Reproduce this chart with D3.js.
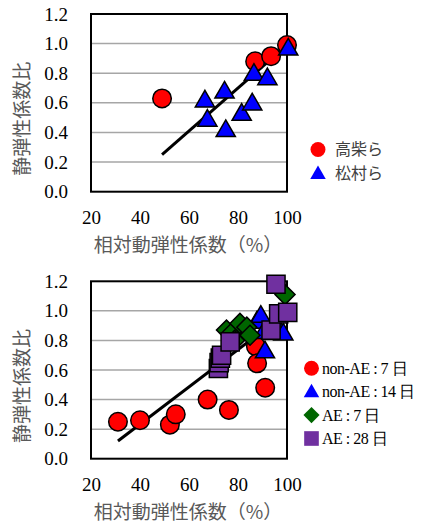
<!DOCTYPE html>
<html>
<head>
<meta charset="utf-8">
<script src="https://cdn.jsdelivr.net/npm/d3@7"></script>
<style>
  body { margin: 0; background: #fff; }
  svg { display: block; }
</style>
</head>
<body>
<div id="chart"></div>
<script>
// data
var xTicks = [20, 40, 60, 80, 100];
var yTicks = [0, 0.2, 0.4, 0.6, 0.8, 1.0, 1.2];
var xTitle = "相対動弾性係数（%）";
var yTitle = "静弾性係数比";

// upper panel
var takashiba = [[49, 0.63], [87, 0.88], [93.5, 0.915], [100, 0.99]];
var matsumura = [[66.5, 0.62], [67.5, 0.49], [74.5, 0.68], [75, 0.42], [81.5, 0.53],
                 [85.8, 0.60], [86.5, 0.80], [92, 0.77], [100.5, 0.97]];
var fitTop = [[49, 0.25], [100, 0.99]];

// lower panel
var nonAE7 = [[31, 0.25], [40, 0.26], [52.2, 0.23], [54.6, 0.30], [67.6, 0.40], [76.3, 0.33],
              [87.3, 0.76], [87.8, 0.645], [91.1, 0.48]];
var nonAE14 = [[87.7, 0.93], [89.3, 0.97], [90.5, 0.86], [91, 0.73], [96, 0.90], [98.5, 0.85]];
var AE7 = [[75.3, 0.87], [77.4, 0.85], [78.6, 0.80], [80.8, 0.915], [83.6, 0.89],
           [84.9, 0.835], [99.2, 1.11]];
var AE28 = [[72, 0.61], [72.3, 0.65], [72.8, 0.68], [73.3, 0.70], [76.8, 0.79],
            [93.5, 0.87], [96.6, 0.98], [100.3, 0.99], [95.5, 1.18]];
var fitBottom = [[31, 0.12], [100, 0.99]];

var svg = d3.select("#chart").append("svg")
  .attr("width", 424)
  .attr("height", 525);

var serif = "'Liberation Serif', 'DejaVu Serif', serif";
var cjk = "'Noto Sans CJK JP', sans-serif";

var markers = {
  circle:   { type: d3.symbolCircle,   size: 270, rot: 0 },
  triangle: { type: d3.symbolTriangle, size: 160, rot: 0 },
  diamond:  { type: d3.symbolSquare,   size: 200, rot: 45 },
  square:   { type: d3.symbolSquare,   size: 330, rot: 0 }
};

function panel(top, bottom, series, fit, legend) {
  var left = 91, right = 287;
  var x = d3.scaleLinear().domain([20, 100]).range([left, right]);
  var y = d3.scaleLinear().domain([0, 1.2]).range([bottom, top]);
  var g = svg.append("g");

  // gridlines
  g.append("g").selectAll("line")
    .data(yTicks.filter(function(d) { return d > 0 && d < 1.2; }))
    .enter().append("line")
      .attr("x1", left).attr("x2", right)
      .attr("y1", function(d) { return y(d); })
      .attr("y2", function(d) { return y(d); })
      .attr("stroke", "#a6a6a6")
      .attr("stroke-width", 1.5);

  // frame
  g.append("rect")
    .attr("x", left).attr("y", top)
    .attr("width", right - left).attr("height", bottom - top)
    .attr("fill", "none")
    .attr("stroke", "#000")
    .attr("stroke-width", 2);

  // axes
  var ya = g.append("g")
    .attr("transform", "translate(" + left + ",0)")
    .call(d3.axisLeft(y).tickValues(yTicks).tickSize(0).tickPadding(23)
      .tickFormat(d3.format(".1f")));
  var xa = g.append("g")
    .attr("transform", "translate(0," + bottom + ")")
    .call(d3.axisBottom(x).tickValues(xTicks).tickSize(0).tickPadding(19));
  [ya, xa].forEach(function(a) {
    a.select(".domain").remove();
    a.selectAll("text")
      .style("font-family", serif)
      .style("font-size", "19px")
      .attr("fill", "#000");
  });

  // axis titles (explicit baselines; CJK glyph centre sits ~0.38em above baseline)
  g.append("text")
    .attr("x", (left + right) / 2 - 1)
    .attr("y", bottom + 60.5)
    .attr("text-anchor", "middle")
    .style("font-family", cjk)
    .style("font-size", "19px")
    .attr("fill", "#595959")
    .text(xTitle);
  g.append("text")
    .attr("transform", "translate(29," + ((top + bottom) / 2 + 16) + ") rotate(-90)")
    .attr("text-anchor", "middle")
    .style("font-family", cjk)
    .style("font-size", "19px")
    .attr("fill", "#595959")
    .text(yTitle);

  // fit line
  g.append("path")
    .datum(fit)
    .attr("fill", "none")
    .attr("stroke", "#000")
    .attr("stroke-width", 3)
    .attr("d", d3.line()
      .x(function(d) { return x(d[0]); })
      .y(function(d) { return y(d[1]); }));

  // points
  series.forEach(function(s) {
    var m = markers[s.shape];
    g.append("g").selectAll("path")
      .data(s.data)
      .enter().append("path")
        .attr("d", d3.symbol().type(m.type).size(m.size))
        .attr("transform", function(d) {
          var ty = s.shape === "triangle" ? 1.5 : 0;
          return "translate(" + x(d[0]) + "," + (y(d[1]) + ty) + ") rotate(" + m.rot + ")";
        })
        .attr("fill", s.color)
        .attr("stroke", "#000")
        .attr("stroke-width", 1.5);
  });

  // legend
  var lg = g.append("g");
  series.forEach(function(s, i) {
    var m = markers[s.shape];
    var cy = legend.y + i * legend.step;
    lg.append("path")
      .attr("d", d3.symbol().type(m.type).size(m.size * legend.scale))
      .attr("transform", "translate(" + legend.x + "," + (cy + (s.shape === "triangle" ? 1 : 0)) + ") rotate(" + m.rot + ")")
      .attr("fill", s.color);
    lg.append("text")
      .attr("x", legend.tx)
      .attr("y", cy + 5.5)
      .style("font-family", legend.font)
      .style("font-size", "16px")
      .style("letter-spacing", legend.spacing)
      .attr("fill", legend.textColor)
      .text(s.name);
  });
}

panel(14, 191.7, [
  { name: "高柴ら", data: takashiba, shape: "circle", color: "#ff0000" },
  { name: "松村ら", data: matsumura, shape: "triangle", color: "#0000ff" }
], fitTop, { x: 318, y: 149.5, step: 24, tx: 335, scale: 0.65, font: cjk, textColor: "#404040", spacing: "0px" });

panel(281.3, 458.7, [
  { name: "non-AE : 7 日", data: nonAE7, shape: "circle", color: "#ff0000" },
  { name: "non-AE : 14 日", data: nonAE14, shape: "triangle", color: "#0000ff" },
  { name: "AE : 7 日", data: AE7, shape: "diamond", color: "#006600" },
  { name: "AE : 28 日", data: AE28, shape: "square", color: "#7030a0" }
], fitBottom, { x: 311.5, y: 368.3, step: 23.4, tx: 322, scale: 0.65, font: serif, textColor: "#000", spacing: "-0.5px" });
</script>
</body>
</html>
